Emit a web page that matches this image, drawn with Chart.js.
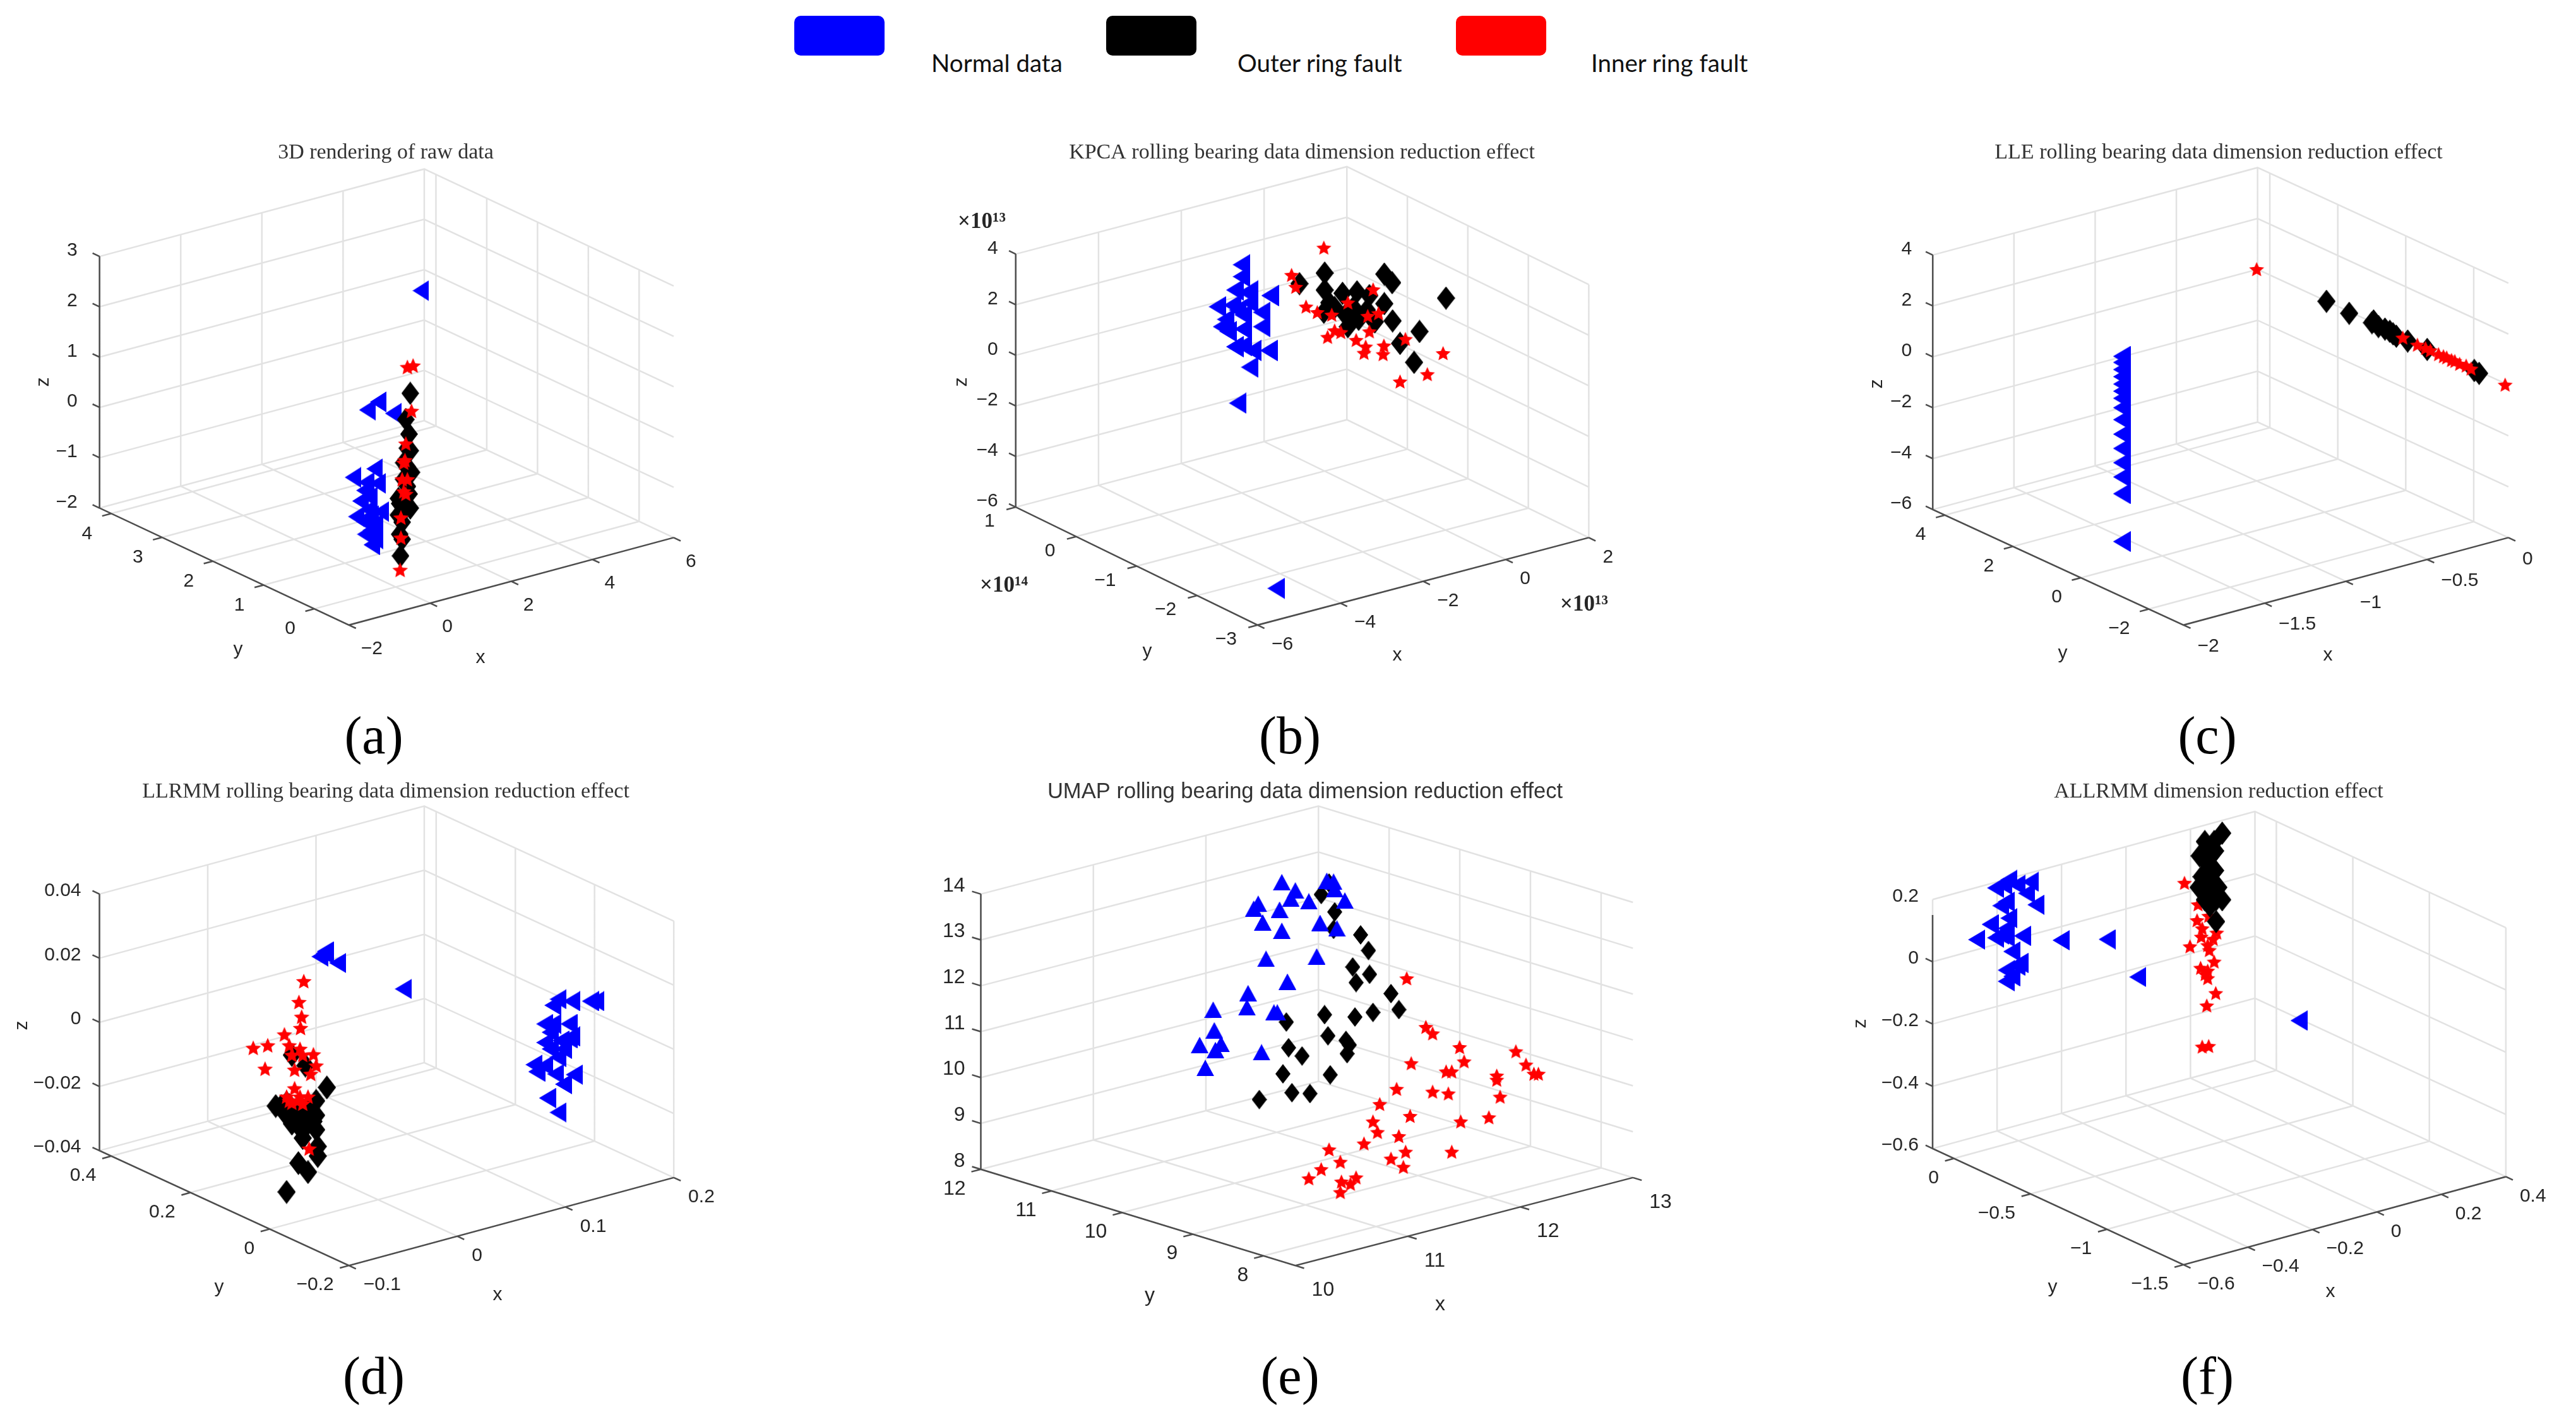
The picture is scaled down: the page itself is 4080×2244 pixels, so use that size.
<!DOCTYPE html>
<html>
<head>
<meta charset="utf-8">
<title>Dimension reduction effect</title>
<script src="https://cdn.jsdelivr.net/npm/chart.js@4"></script>
<style>
    html, body { margin: 0; padding: 0; width: 4080px; height: 2244px; overflow: hidden; background: #fff; }
    canvas { position: absolute; }
    .swatch { position: absolute; top: 25px; width: 143px; height: 63px; border-radius: 10px; }
    .legendText { position: absolute; top: 76px; font: 38.5px Lato, sans-serif; color: #111; white-space: nowrap; }
    .letter { position: absolute; width: 200px; text-align: center; font: 84px "Liberation Serif", serif; color: #000; line-height: 90px; }
</style>
</head>
<body>
<script>
// The marks come from flat 3D plots, so depth can't be read back.
// Each mark keeps two readings: x along the front x axis, z along the z axis.

/************************ (a) raw data */
const aTicksX = [-2, 0, 2, 4, 6];
const aTicksY = [0, 1, 2, 3, 4];
const aTicksZ = [-2, -1, 0, 1, 2, 3];
const aNormalX = [-0.23, -1.55, -1.28, -0.91, -1.90, -1.37, -1.29, -1.57, -1.72, -1.21, -1.82, -1.52, -1.36, -1.60, -1.44, -1.46, -1.62, -1.46, -1.36, -1.49, -1.62];
const aNormalZ = [2.32, -0.05, 0.11, -0.12, -1.39, -1.22, -1.51, -1.49, -1.86, -2.07, -2.17, -2.03, -2.32, -2.52, -2.73, -2.15, -2.27, -2.44, -2.61, -1.78, -1.65];
const aOuterX = [-0.49, -0.60, -0.52, -0.56, -0.65, -0.56, -0.65, -0.56, -0.69, -0.75, -0.60, -0.69, -0.75, -0.73, -0.69, -0.49, -0.46, -0.52, -0.78, -0.49, -0.78];
const aOuterZ = [0.28, -0.24, -0.53, -0.81, -1.10, -1.19, -1.43, -1.57, -1.86, -1.91, -2.0, -2.28, -2.52, -2.95, -2.62, -0.86, -1.29, -1.72, -1.81, -2.0, -2.14];
const aInnerX = [-0.56, -0.42, -0.46, -0.60, -0.62, -0.65, -0.56, -0.65, -0.60, -0.72, -0.72, -0.74, -0.69];
const aInnerZ = [0.80, 0.83, -0.07, -0.72, -1.05, -1.10, -1.43, -1.67, -1.72, -2.19, -2.59, -3.23, -1.43];

/************************ (b) KPCA */
const bTicksX = [-6, -4, -2, 0, 2];
const bTicksY = [-3, -2, -1, 0, 1];
const bTicksZ = [-6, -4, -2, 0, 2, 4];
const bNormalX = [-6.39, -6.39, -6.55, -6.19, -6.97, -6.61, -6.19, -5.70, -5.90, -6.77, -6.35, -5.90, -6.71, -6.35, -6.55, -6.35, -6.12, -5.73, -6.19, -6.48, -5.55, -6.22, -6.48, -6.87];
const bNormalZ = [3.58, 3.11, 2.58, 2.55, 1.92, 1.98, 2.08, 2.36, 1.70, 1.42, 1.60, 1.13, 0.94, 1.04, 0.34, 0.38, 0.19, 0.19, -0.47, -1.89, -9.21, 2.45, 1.79, 1.13];
const bOuterX = [-4.99, -4.38, -4.38, -3.95, -3.60, -4.27, -3.30, -4.14, -3.69, -4.40, -2.94, -2.75, -2.94, -3.56, -3.17, -2.74, -3.82, -1.45, -2.09, -2.56, -2.22, -3.88, -3.36];
const bOuterZ = [2.83, 3.25, 2.58, 2.45, 2.51, 2.08, 2.36, 1.89, 1.89, 1.70, 3.21, 2.87, 2.04, 1.42, 1.32, 1.36, 1.13, 2.26, 0.94, 0.47, -0.28, 1.60, 1.79];
const bInnerX = [-4.40, -5.18, -5.08, -4.83, -4.56, -4.21, -3.21, -3.34, -3.08, -4.14, -4.31, -3.99, -3.62, -3.30, -2.43, -3.39, -3.43, -2.95, -2.97, -1.52, -1.90, -2.56, -3.82];
const bInnerZ = [4.25, 3.17, 2.70, 1.92, 1.70, 1.60, 2.60, 1.55, 1.66, 0.98, 0.72, 0.91, 0.60, 0.94, 0.64, 0.34, 0.09, 0.38, 0.04, 0.08, -0.75, -1.04, 2.08];

/************************ (c) LLE */
const cTicksX = [-2, -1.5, -1, -0.5, 0];
const cTicksY = [-2, 0, 2, 4];
const cTicksZ = [-6, -4, -2, 0, 2, 4];
const cNormalX = [-2.38, -2.38, -2.38, -2.38, -2.38, -2.38, -2.38, -2.38, -2.38, -2.38, -2.38, -2.38, -2.38, -2.38, -2.38];
const cNormalZ = [0.02, -0.22, -0.50, -0.78, -1.07, -1.35, -1.63, -2.0, -2.47, -3.04, -3.60, -4.16, -4.72, -5.38, -7.26];
const cOuterX = [-1.12, -0.98, -0.84, -0.80, -0.76, -0.71, -0.69, -0.62, -0.50, -0.21, -0.18, -0.73, -0.83];
const cOuterZ = [2.18, 1.71, 1.34, 1.19, 1.09, 0.90, 0.81, 0.62, 0.29, -0.54, -0.65, 1.0, 1.41];
const cInnerX = [-1.55, -0.02, -0.65, -0.56, -0.48, -0.43, -0.38, -0.35, -0.30, -0.26, -0.51, -0.23, -0.40, -0.33];
const cInnerZ = [3.44, -1.10, 0.75, 0.47, 0.25, 0.10, -0.03, -0.13, -0.28, -0.35, 0.34, -0.47, 0.02, -0.17];

/************************ (d) LLRMM */
const dTicksX = [-0.1, 0, 0.1, 0.2];
const dTicksY = [-0.2, 0, 0.2, 0.4];
const dTicksZ = [-0.04, -0.02, 0, 0.02, 0.04];
const dNormalX = [-0.1229, -0.1219, -0.1268, -0.1104, -0.0498, 0.0932, 0.0883, 0.1057, 0.1230, 0.1280, 0.0808, 0.1032, 0.0858, 0.1057, 0.0808, 0.0957, 0.0982, 0.0932, 0.0709, 0.0808, 0.0734, 0.0908, 0.1081, 0.0982, 0.0833, 0.0932, 0.0883, 0.0858, 0.1032];
const dNormalZ = [0.0215, 0.0221, 0.0205, 0.0185, 0.0104, 0.0072, 0.0053, 0.0066, 0.0066, 0.0066, -0.0005, -0.0005, -0.0031, -0.0044, -0.0063, -0.0057, -0.0083, -0.0109, -0.0132, -0.0135, -0.0154, -0.0161, -0.0163, -0.0193, -0.0236, -0.0281, -0.0005, -0.0083, -0.0050];
const dOuterX = [-0.1527, -0.1402, -0.1204, -0.1676, -0.1303, -0.1601, -0.1477, -0.1303, -0.1527, -0.1378, -0.1303, -0.1427, -0.1288, -0.1288, -0.1467, -0.1378, -0.1576, -0.1576, -0.1378, -0.1452, -0.1551, -0.1427, -0.1353, -0.1527, -0.1452, -0.1328, -0.1576, -0.1626];
const dOuterZ = [-0.0102, -0.0135, -0.0203, -0.0261, -0.0245, -0.0277, -0.0290, -0.0290, -0.0316, -0.0316, -0.0335, -0.0361, -0.0387, -0.0417, -0.0439, -0.0467, -0.0529, -0.0251, -0.0264, -0.0329, -0.0258, -0.0271, -0.0271, -0.0303, -0.0303, -0.0309, -0.0290, -0.0261];
const dInnerX = [-0.1417, -0.1462, -0.1437, -0.1447, -0.1596, -0.1750, -0.1884, -0.1551, -0.1452, -0.1527, -0.1328, -0.1303, -0.1775, -0.1502, -0.1353, -0.1427, -0.1502, -0.1576, -0.1452, -0.1378, -0.1527, -0.1427, -0.1368, -0.1477, -0.1551];
const dInnerZ = [0.0128, 0.0063, 0.0017, -0.0018, -0.0038, -0.0072, -0.0080, -0.0072, -0.0083, -0.0102, -0.0100, -0.0135, -0.0145, -0.0148, -0.0161, -0.0102, -0.0206, -0.0232, -0.0232, -0.0232, -0.0251, -0.0254, -0.0394, -0.0245, -0.0245];

/************************ (e) UMAP */
const eTicksX = [10, 11, 12, 13];
const eTicksY = [8, 9, 10, 11, 12];
const eTicksZ = [8, 9, 10, 11, 12, 13, 14];
const eNormalX = [9.88, 10.0, 10.28, 10.34, 10.35, 9.96, 10.12, 10.44, 9.67, 9.63, 9.86, 9.71, 10.22, 10.37, 9.88, 9.74, 10.19, 9.93, 9.58, 9.57, 9.27, 9.81, 9.84, 9.28, 9.15, 9.34, 9.29, 9.70, 9.20];
const eNormalZ = [14.26, 14.08, 14.29, 14.27, 14.11, 13.90, 13.84, 13.86, 13.79, 13.68, 13.66, 13.38, 13.37, 13.25, 13.20, 12.59, 12.64, 12.09, 11.84, 11.53, 11.48, 11.42, 11.42, 11.03, 10.71, 10.73, 10.60, 10.55, 10.21];
const eOuterX = [10.30, 10.23, 10.35, 10.34, 10.58, 10.65, 10.51, 10.66, 10.54, 10.85, 10.92, 10.69, 10.26, 10.53, 9.92, 10.29, 10.45, 10.48, 10.46, 9.94, 10.06, 9.89, 10.31, 9.97, 10.13, 9.68];
const eOuterZ = [14.24, 13.99, 13.61, 13.23, 13.11, 12.77, 12.41, 12.25, 12.07, 11.83, 11.48, 11.42, 11.37, 11.32, 11.21, 10.91, 10.81, 10.71, 10.52, 10.65, 10.47, 10.08, 10.06, 9.67, 9.65, 9.52];
const eInnerX = [10.99, 11.16, 11.22, 11.46, 11.50, 11.03, 11.96, 12.05, 11.34, 11.39, 11.79, 11.79, 12.12, 12.16, 11.82, 10.90, 11.22, 11.36, 10.75, 11.02, 10.69, 11.72, 11.47, 10.73, 10.92, 10.61, 10.30, 10.98, 11.39, 10.40, 10.85, 10.96, 10.23, 10.12, 10.54, 10.41, 10.49, 10.40];
const eInnerZ = [12.16, 11.10, 10.96, 10.66, 10.35, 10.31, 10.57, 10.28, 10.13, 10.13, 10.04, 9.95, 10.08, 10.08, 9.58, 9.75, 9.69, 9.65, 9.42, 9.16, 9.04, 9.13, 9.04, 8.81, 8.72, 8.56, 8.43, 8.38, 8.38, 8.16, 8.23, 8.05, 8.0, 7.80, 7.82, 7.73, 7.68, 7.50];

/************************ (f) ALLRMM */
const fTicksX = [-0.6, -0.4, -0.2, 0, 0.2, 0.4];
const fTicksY = [-1.5, -1, -0.5, 0];
const fTicksZ = [-0.6, -0.4, -0.2, 0, 0.2];
const fNormalX = [-1.075, -1.142, -1.158, -1.183, -1.117, -1.087, -1.058, -1.167, -1.150, -1.142, -1.200, -1.150, -1.183, -1.242, -1.150, -1.100, -0.980, -0.837, -0.742, -0.242, -1.133, -1.108, -1.150, -1.133, -1.150, -1.167, -1.117];
const fNormalZ = [0.257, 0.263, 0.247, 0.237, 0.247, 0.220, 0.183, 0.180, 0.193, 0.140, 0.120, 0.107, 0.077, 0.071, 0.080, 0.083, 0.069, 0.072, -0.049, -0.189, 0.033, -0.004, -0.027, -0.047, -0.063, 0.087, -0.013];
const fOuterX = [-0.480, -0.505, -0.534, -0.550, -0.518, -0.502, -0.524, -0.502, -0.544, -0.553, -0.518, -0.492, -0.480, -0.524, -0.499, -0.534, -0.518, -0.499];
const fOuterZ = [0.413, 0.386, 0.386, 0.340, 0.360, 0.356, 0.313, 0.293, 0.273, 0.239, 0.259, 0.239, 0.199, 0.219, 0.199, 0.199, 0.179, 0.129];
const fInnerX = [-0.597, -0.555, -0.558, -0.522, -0.500, -0.542, -0.497, -0.545, -0.508, -0.525, -0.580, -0.520, -0.505, -0.547, -0.525, -0.533, -0.525, -0.500, -0.528, -0.542, -0.522, -0.517];
const fInnerZ = [0.253, 0.184, 0.133, 0.147, 0.133, 0.107, 0.093, 0.080, 0.073, 0.053, 0.049, 0.037, 0, -0.020, -0.029, -0.040, -0.053, -0.101, -0.141, -0.273, -0.271, 0.327];

/************************ legend */
const legendNames = ["Normal data", "Outer ring fault", "Inner ring fault"];
const legendColors = ["#0000ff", "#000000", "#ff0000"];

/************************ layout of each plot on the page (pixels) */
const ROW1 = 225, ROW2 = 1237;
const panels = [
    {
        letter: "(a)", title: "3D rendering of raw data", titleFont: "Liberation Serif", titleSize: 34, centerX: 611, top: ROW1, w: 1200, h: 950,
        A: [149.2, 811.2], B: [551.6, 998.7], C: [1075.5, 858.6], topY: 407.9,
        xRange: [-2, 6], yRange: [-0.68, 4.23], zRange: [-2, 3],
        ticksX: aTicksX, ticksY: aTicksY, ticksZ: aTicksZ,
        normal: [aNormalX, aNormalZ], outer: [aOuterX, aOuterZ], inner: [aInnerX, aInnerZ],
        stack: ["normal", "outer", "inner"], triangle: "left",
        tickFont: 30, xOff: [19, 38], yOff: [-30, 32], zOff: [-35, -9],
        xName: [761, 1042], yName: [377, 1029], zName: [69, 605], letterPos: [592, 1165],
        tri: [26, 33], dia: [28, 37], star: 26,
    },
    {
        letter: "(b)", title: "KPCA rolling bearing data dimension reduction effect", titleFont: "Liberation Serif", titleSize: 34, centerX: 2062, top: ROW1, w: 1200, h: 950,
        A: [1600.3, 809.7], B: [1990.6, 998.7], C: [2524.9, 858.6], topY: 404.1,
        xRange: [-6, 2], yRange: [-3, 1], zRange: [-6, 4],
        ticksX: bTicksX, ticksY: bTicksY, ticksZ: bTicksZ,
        normal: [bNormalX, bNormalZ], outer: [bOuterX, bOuterZ], inner: [bInnerX, bInnerZ],
        stack: ["normal", "outer", "inner"], triangle: "left",
        tickFont: 30, xOff: [22, 31], yOff: [-33, 23], zOff: [-28, -9],
        xName: [2213, 1038], yName: [1817, 1032], zName: [1523, 605], letterPos: [2043, 1165],
        tri: [28, 34], dia: [29, 37], star: 25,
        exponents: [["\u00d710\u00b9\u00b3", 1555, 352], ["\u00d710\u00b9\u2074", 1590, 928], ["\u00d710\u00b9\u00b3", 2509, 958]],
    },
    {
        letter: "(c)", title: "LLE rolling bearing data dimension reduction effect", titleFont: "Liberation Serif", titleSize: 34, centerX: 3514, top: ROW1, w: 1132, h: 950,
        A: [3052.2, 813.5], B: [3457.3, 998.7], C: [3982, 858.6], topY: 405.6,
        xRange: [-2, 0], yRange: [-3.02, 4.36], zRange: [-6, 4],
        ticksX: cTicksX, ticksY: cTicksY, ticksZ: cTicksZ,
        normal: [cNormalX, cNormalZ], outer: [cOuterX, cOuterZ], inner: [cInnerX, cInnerZ],
        stack: ["normal", "outer", "inner"], triangle: "left",
        tickFont: 30, xOff: [22, 34], yOff: [-30, 31], zOff: [-33, -9],
        xName: [3687, 1038], yName: [3267, 1035], zName: [2973, 608], letterPos: [3496, 1165],
        tri: [28, 33], dia: [29, 37], star: 25,
    },
    {
        letter: "(d)", title: "LLRMM rolling bearing data dimension reduction effect", titleFont: "Liberation Serif", titleSize: 34, centerX: 611, top: ROW2, w: 1220, h: 900,
        A: [149.2, 1829.2], B: [551.6, 2013.6], C: [1075.5, 1872.5], topY: 1417.7,
        xRange: [-0.1, 0.2], yRange: [-0.2, 0.43], zRange: [-0.04, 0.04],
        ticksX: dTicksX, ticksY: dTicksY, ticksZ: dTicksZ,
        normal: [dNormalX, dNormalZ], outer: [dOuterX, dOuterZ], inner: [dInnerX, dInnerZ],
        stack: ["normal", "outer", "inner"], triangle: "left",
        tickFont: 30, xOff: [23, 31], yOff: [-24, 31], zOff: [-29, -5],
        xName: [788, 2051], yName: [347, 2039], zName: [35, 1624], letterPos: [592, 2179],
        tri: [27, 32], dia: [29, 38], star: 26,
    },
    {
        letter: "(e)", title: "UMAP rolling bearing data dimension reduction effect", titleFont: "Liberation Sans", titleSize: 34.6, centerX: 2067, top: ROW2, w: 1200, h: 900,
        A: [1543.9, 1859.2], B: [2051.3, 2013.6], C: [2596, 1872.5], topY: 1417.7,
        xRange: [10, 13], yRange: [7.55, 12], zRange: [8, 14],
        ticksX: eTicksX, ticksY: eTicksY, ticksZ: eTicksZ,
        normal: [eNormalX, eNormalZ], outer: [eOuterX, eOuterZ], inner: [eInnerX, eInnerZ],
        stack: ["outer", "inner", "normal"], triangle: "up",
        tickFont: 32, xOff: [26, 39], yOff: [-24, 31], zOff: [-25, -13],
        xName: [2281, 2066], yName: [1821, 2052], zName: [1453, 1639], letterPos: [2043, 2179],
        tri: [28, 26], dia: [24, 31], star: 25,
    },
    {
        letter: "(f)", title: "ALLRMM dimension reduction effect", titleFont: "Liberation Serif", titleSize: 34, centerX: 3514, top: ROW2, w: 1160, h: 900,
        A: [3052.2, 1825.9], B: [3457.3, 2012.3], C: [3977.7, 1871.1], topY: 1426.4,
        xRange: [-0.6, 0.4], yRange: [-1.5, 0.14], zRange: [-0.6, 0.2], zAxisTop: 0.15,
        ticksX: fTicksX, ticksY: fTicksY, ticksZ: fTicksZ,
        normal: [fNormalX, fNormalZ], outer: [fOuterX, fOuterZ], inner: [fInnerX, fInnerZ],
        stack: ["normal", "inner", "outer"], triangle: "left",
        tickFont: 30, xOff: [22, 31], yOff: [-24, 31], zOff: [-22, -5],
        xName: [3691, 2046], yName: [3251, 2039], zName: [2947, 1621], letterPos: [3496, 2179],
        tri: [27, 32], dia: [29, 37], star: 25,
    },
];

const GRID_COLOR = "#e2e2e2";
const AXIS_COLOR = "#4d4d4d";
const TEXT_COLOR = "#262626";

/************************ markers */
makeMarker = (w, h, color, draw) => {
    let c = document.createElement("canvas");
    c.width = w;
    c.height = h;
    let ctx = c.getContext("2d");
    ctx.fillStyle = color;
    ctx.beginPath();
    draw(ctx);
    ctx.closePath();
    ctx.fill();
    return c;
};

triangleMarker = (size, way) => makeMarker(size[0], size[1], legendColors[0], (ctx) => {
    if (way === "left") {
        ctx.moveTo(0, size[1] / 2);
        ctx.lineTo(size[0], 0);
        ctx.lineTo(size[0], size[1]);
    } else {
        ctx.moveTo(size[0] / 2, 0);
        ctx.lineTo(size[0], size[1]);
        ctx.lineTo(0, size[1]);
    }
});

diamondMarker = (size) => makeMarker(size[0], size[1], legendColors[1], (ctx) => {
    ctx.moveTo(size[0] / 2, 0);
    ctx.lineTo(size[0], size[1] / 2);
    ctx.lineTo(size[0] / 2, size[1]);
    ctx.lineTo(0, size[1] / 2);
});

starMarker = (size) => makeMarker(size, size, legendColors[2], (ctx) => {
    for (let i = 0; i < 10; i++) {
        let r = i % 2 === 0 ? size / 2 : size * 0.23;
        let a = -Math.PI / 2 + i * Math.PI / 5;
        ctx.lineTo(size / 2 + r * Math.cos(a), size / 2 + 1 + r * Math.sin(a));
    }
});

/************************ view: 3D axes to the two readings kept for each mark */
scalesOf = (p) => {
    let kx = (p.C[0] - p.B[0]) / (p.xRange[1] - p.xRange[0]);
    let kz = (p.A[1] - p.topY) / (p.zRange[1] - p.zRange[0]);
    return { kx, kz };
};

project = (p, x, y, z) => {
    let { kx, kz } = scalesOf(p);
    let tx = (x - p.xRange[0]) / (p.xRange[1] - p.xRange[0]);
    let ty = (y - p.yRange[0]) / (p.yRange[1] - p.yRange[0]);
    let tz = (z - p.zRange[0]) / (p.zRange[1] - p.zRange[0]);
    let left = p.B[0] + tx * (p.C[0] - p.B[0]) + ty * (p.A[0] - p.B[0]);
    let down = p.B[1] + tx * (p.C[1] - p.B[1]) + ty * (p.A[1] - p.B[1]) - tz * (p.A[1] - p.topY);
    return {
        x: p.xRange[0] + (left - p.B[0]) / kx,
        y: p.zRange[0] + (p.A[1] - down) / kz,
    };
};

// line datasets with a gap between the pieces
pieces = (p, list) => {
    let out = [];
    list.forEach((line) => {
        line.forEach((q) => out.push(project(p, q[0], q[1], q[2])));
        out.push({ x: NaN, y: NaN });
    });
    return out;
};

gridPieces = (p) => {
    let [x0, x1] = p.xRange, [y0, y1] = p.yRange, [z0, z1] = p.zRange;
    let lines = [
        [[x0, y1, z0], [x1, y1, z0], [x1, y0, z0]],
        [[x0, y1, z1], [x1, y1, z1], [x1, y0, z1]],
        [[x1, y1, z0], [x1, y1, z1]],
    ];
    p.ticksX.forEach((x) => lines.push([[x, y0, z0], [x, y1, z0], [x, y1, z1]]));
    p.ticksY.forEach((y) => lines.push([[x0, y, z0], [x1, y, z0], [x1, y, z1]]));
    p.ticksZ.forEach((z) => lines.push([[x0, y1, z], [x1, y1, z], [x1, y0, z]]));
    return pieces(p, lines);
};

axisPieces = (p) => {
    let [x0, x1] = p.xRange, [y0, y1] = p.yRange, [z0, z1] = p.zRange;
    let zTop = p.zAxisTop === undefined ? z1 : p.zAxisTop;
    let tickX = (y1 - y0) * 0.028, tickY = (x1 - x0) * 0.028, tickZ = (y1 - y0) * 0.028;
    let lines = [
        [[x0, y1, zTop], [x0, y1, z0], [x0, y0, z0], [x1, y0, z0]],
    ];
    p.ticksX.forEach((x) => lines.push([[x, y0, z0], [x, y0 - tickX, z0]]));
    p.ticksY.forEach((y) => lines.push([[x0, y, z0], [x0 - tickY, y, z0]]));
    p.ticksZ.forEach((z) => { if (z <= zTop) lines.push([[x0, y1, z], [x0, y1 + tickZ, z]]); });
    return pieces(p, lines);
};

label = (v) => String(v).replace("-", "\u2212");

/************************ text around each box */
axisText = (p) => ({
    id: "axisText",
    afterDatasetsDraw: (chart) => {
        let ctx = chart.ctx;
        let sx = chart.scales.x, sy = chart.scales.y;
        let [x0] = p.xRange, [y0, y1] = p.yRange, [z0] = p.zRange;
        let put = (v, q, off, align) => {
            let view = project(p, q[0], q[1], q[2]);
            ctx.textAlign = align;
            ctx.fillText(label(v), sx.getPixelForValue(view.x) + off[0], sy.getPixelForValue(view.y) + off[1]);
        };
        ctx.save();
        ctx.fillStyle = TEXT_COLOR;
        ctx.textBaseline = "middle";
        ctx.font = p.tickFont + "px 'Liberation Sans'";
        p.ticksX.forEach((x) => put(x, [x, y0, z0], p.xOff, "left"));
        p.ticksY.forEach((y) => put(y, [x0, y, z0], p.yOff, "right"));
        p.ticksZ.forEach((z) => put(z, [x0, y1, z], p.zOff, "right"));

        // names of the axes, placed on the page
        let originX = p.centerX - p.w / 2, originY = p.top;
        ctx.textAlign = "center";
        ctx.fillText("x", p.xName[0] - originX, p.xName[1] - originY);
        ctx.fillText("y", p.yName[0] - originX, p.yName[1] - originY);
        ctx.save();
        ctx.translate(p.zName[0] - originX, p.zName[1] - originY);
        ctx.rotate(-Math.PI / 2);
        ctx.fillText("z", 0, 0);
        ctx.restore();

        if (p.exponents) {
            ctx.font = "bold 35px 'Liberation Serif'";
            p.exponents.forEach((e) => ctx.fillText(e[0], e[1] - originX, e[2] - originY));
        }
        ctx.restore();
    }
});

/************************ charts */
const markStyle = {
    normal: (p) => triangleMarker(p.tri, p.triangle),
    outer: (p) => diamondMarker(p.dia),
    inner: (p) => starMarker(p.star),
};
const markName = { normal: legendNames[0], outer: legendNames[1], inner: legendNames[2] };

drawPanel = (p) => {
    let canvas = document.createElement("canvas");
    let originX = p.centerX - p.w / 2;
    canvas.width = p.w;
    canvas.height = p.h;
    canvas.style.left = originX + "px";
    canvas.style.top = p.top + "px";
    canvas.style.width = p.w + "px";
    canvas.style.height = p.h + "px";
    document.body.appendChild(canvas);

    let { kx, kz } = scalesOf(p);
    let xMin = p.xRange[0] + (originX - p.B[0]) / kx;
    let yMax = p.zRange[0] + (p.A[1] - (p.top + p.titleSize)) / kz;

    // lower order is drawn on top
    let datasets = [
        { label: "grid", order: 20, data: gridPieces(p), showLine: true, borderColor: GRID_COLOR, borderWidth: 2.5, pointRadius: 0, spanGaps: false },
        { label: "axes", order: 19, data: axisPieces(p), showLine: true, borderColor: AXIS_COLOR, borderWidth: 2.5, pointRadius: 0, spanGaps: false },
    ];
    p.stack.forEach((name, i) => {
        let [xs, zs] = p[name];
        datasets.push({
            label: markName[name],
            order: 10 - i,
            data: xs.map((x, j) => ({ x: x, y: zs[j] })),
            pointStyle: markStyle[name](p),
            pointRadius: 10,
            showLine: false,
        });
    });

    new Chart(canvas.getContext("2d"), {
        type: "scatter",
        data: { datasets },
        options: {
            responsive: false,
            animation: false,
            devicePixelRatio: 1,
            layout: { padding: 0 },
            plugins: {
                legend: { display: false },
                tooltip: { enabled: false },
                title: {
                    display: true,
                    text: p.title,
                    color: "#333333",
                    padding: 0,
                    font: { family: p.titleFont, size: p.titleSize, weight: "normal", lineHeight: 1 },
                },
            },
            scales: {
                x: { type: "linear", display: false, min: xMin, max: xMin + p.w / kx },
                y: { type: "linear", display: false, max: yMax, min: yMax - (p.h - p.titleSize) / kz },
            },
        },
        plugins: [axisText(p)],
    });

    let letter = document.createElement("div");
    letter.className = "letter";
    letter.textContent = p.letter;
    letter.style.left = (p.letterPos[0] - 100) + "px";
    letter.style.top = (p.letterPos[1] - 45) + "px";
    document.body.appendChild(letter);
};

drawLegend = () => {
    let boxLeft = [1258, 1752, 2306];
    let textLeft = [1475, 1960, 2520];
    legendNames.forEach((name, i) => {
        let box = document.createElement("div");
        box.className = "swatch";
        box.style.left = boxLeft[i] + "px";
        box.style.background = legendColors[i];
        document.body.appendChild(box);

        let text = document.createElement("div");
        text.className = "legendText";
        text.style.left = textLeft[i] + "px";
        text.textContent = name;
        document.body.appendChild(text);
    });
};

drawLegend();
panels.forEach(drawPanel);
</script>
</body>
</html>
